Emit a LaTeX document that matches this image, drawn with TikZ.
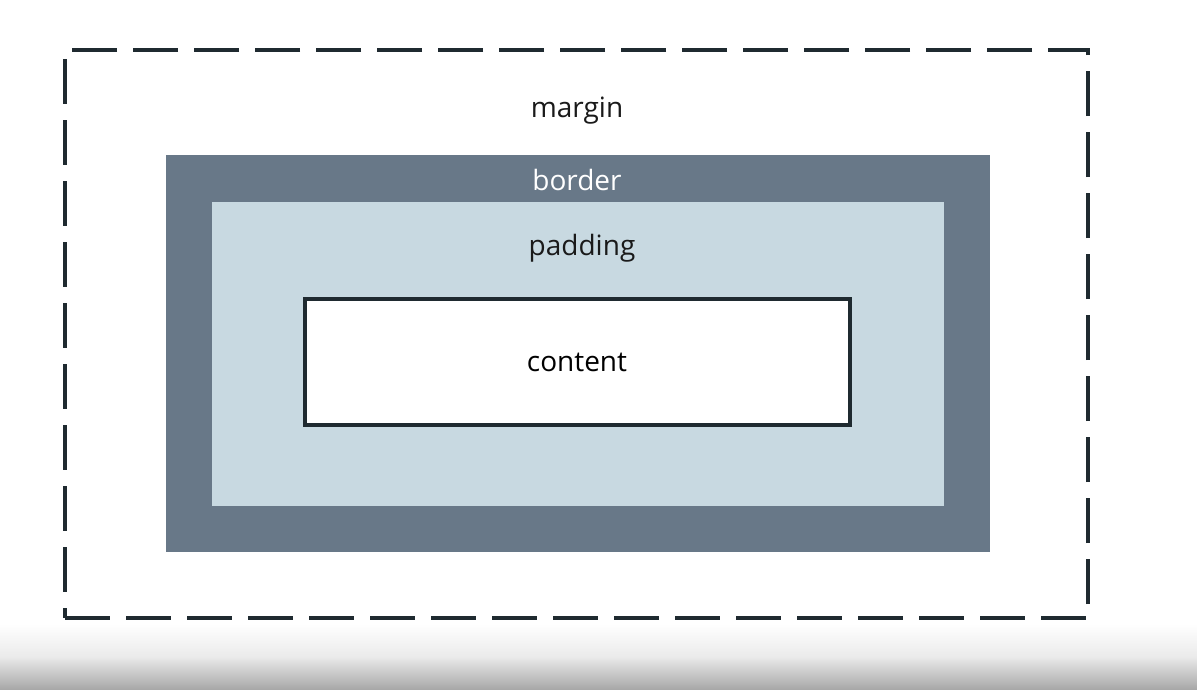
\documentclass[tikz,border=0pt]{standalone}
\usepackage{fontspec}
\setmainfont{Open Sans}
\begin{document}
\begin{tikzpicture}[x=1pt,y=-1pt,
  marginbox/.style={draw=edgecol, line width=4.5pt, dash pattern=on 45pt off 16pt,
    minimum width=1023pt, minimum height=568pt, inner sep=0pt},
  borderbox/.style={fill=bordercol, minimum width=824pt, minimum height=397pt, inner sep=0pt},
  paddingbox/.style={fill=paddingcol, minimum width=732pt, minimum height=304pt, inner sep=0pt},
  contentbox/.style={draw=edgecol, fill=white, line width=4pt,
    minimum width=545pt, minimum height=126pt, inner sep=0pt},
  label/.style={font=\fontsize{28}{32}\selectfont, text=labelcol, inner sep=0pt, anchor=base}]
  \definecolor{edgecol}{HTML}{1F2A30}
  \definecolor{bordercol}{HTML}{687888}
  \definecolor{paddingcol}{HTML}{C8D9E1}
  \definecolor{labelcol}{HTML}{1A1A1A}
  % canvas and the soft grey band along the bottom edge
  \fill[white] (0,0) rectangle (1197,689);
  \useasboundingbox (0,0) rectangle (1197,689);
  \shade[top color=white, bottom color=black!34, middle color=black!8] (0,624) rectangle (1197,689);
  % nested boxes of the box model
  \node[marginbox] (margin) at (576.5,334) {};
  \node[borderbox] (border) at (578,353.5) {};
  \node[paddingbox] (padding) at (578,354) {};
  \node[contentbox] (content) at (577.5,362) {};
  % labels, placed by their baselines
  \node[label] (lmargin) at (577,117.5) {margin};
  \node[label, text=white] (lborder) at (577,190.5) {border};
  \node[label] (lpadding) at (582,255.5) {padding};
  \node[label, text=black] (lcontent) at (577,371) {content};
\end{tikzpicture}
\end{document}
